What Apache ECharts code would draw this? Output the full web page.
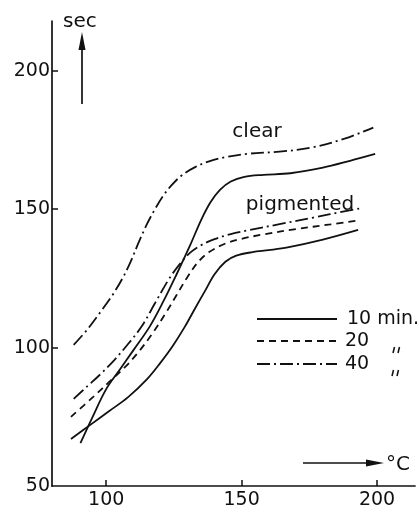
<!DOCTYPE html>
<html><head><meta charset="utf-8">
<script src="https://cdn.jsdelivr.net/npm/echarts@6/dist/echarts.min.js"></script>
<style>html,body{margin:0;padding:0;background:#fff}#c{width:419px;height:512px}</style>
</head><body><div id="c"></div>
<script>
// temperature (°C) vs time (sec)
const clear10 = [[90.5,65.5],[95,75],[100,85],[105,92],[110,99],[116,107.5],[121,116.5],[126,126.5],[131,137],[135,146],[138.5,152.5],[142,157],[146,160],[151,161.7],[158,162.4],[168,163],[180,165],[190,167.5],[199.3,170]];
const clear40 = [[88,101],[93,106.5],[98,113],[102,118.5],[106,125],[109,131],[112,138],[115,144.5],[118,150],[121,154.8],[124,158.5],[128,162.3],[133,165.3],[138,167.3],[144,168.8],[152,170],[164,170.8],[176,172.3],[188,175.5],[198.6,179.5]];
const pig10 = [[87,67],[94,72],[101,77],[108,82],[115,88.5],[120,94.5],[124.5,100.5],[129,107.5],[133,114.5],[136.5,120.5],[140,126.5],[144,131],[148,133.2],[154,134.5],[160,135.2],[167,136.2],[180,139],[193,142.5]];
const pig20 = [[87,75],[95,82],[101,87.5],[107,93],[112,98.5],[117,105],[122,112.5],[126,119],[130,125.5],[134,131],[138,134.5],[144,137.6],[150,139.3],[158,140.9],[170,142.8],[182.7,144.5],[193.5,146]];
const pig40 = [[88,81.5],[93,86],[98,90.5],[103,95.5],[108,101.2],[113,107.5],[118,116],[123,124.5],[127,130],[131,134.3],[135,137],[140,139.2],[146,141],[153,142.5],[164,144.6],[176.5,147],[188.8,149.4],[194,150.3]];
const xTicks = [100,150,200];
const yTicks = [100,150,200];
const yLabels = [50,100,150,200];
const legendTexts = ['10 min.','20','40'];

const INK = '#111';
const FONT = 'DejaVu Sans';
const DASHDOT = [13,4,2,4];
const LW = 1.8;
function line(name, data, type){
  return {name, type:'line', data, showSymbol:false, smooth:0.35, silent:true,
    lineStyle:{color:INK, width:LW, type}};
}
const chart = echarts.init(document.getElementById('c'), null, {renderer:'canvas'});
const txt = (x,y,s,align,size)=>({type:'text', x, y, style:{text:s, fill:INK, font:`${size||20}px "${FONT}"`, align:align||'left', verticalAlign:'middle'}});
const seg = (x1,x2,y,dash)=>({type:'line', shape:{x1,y1:y,x2,y2:y}, style:{stroke:INK, lineWidth:LW, lineDash:dash}});
const tick = (x,y)=>({type:'line', shape:{x1:x+1.5,y1:y-3,x2:x,y2:y+3}, style:{stroke:INK, lineWidth:1.5}});
chart.setOption({
  animation:false,
  backgroundColor:'#fff',
  grid:{left:52, right:4, top:21, bottom:26, containLabel:false, outerBoundsMode:'none'},
  xAxis:{type:'value', min:80, max:214,
    axisLine:{show:true, lineStyle:{color:INK, width:1.7}},
    axisTick:{show:true, inside:true, length:6, customValues:xTicks, lineStyle:{color:INK, width:1.5}},
    axisLabel:{customValues:xTicks, color:INK, fontSize:19, fontFamily:FONT, margin:5},
    splitLine:{show:false}},
  yAxis:{type:'value', min:50, max:218,
    axisLine:{show:true, lineStyle:{color:INK, width:1.7}},
    axisTick:{show:true, inside:true, length:6, customValues:yTicks, lineStyle:{color:INK, width:1.5}},
    axisLabel:{customValues:yLabels, color:INK, fontSize:19, fontFamily:FONT, margin:2},
    splitLine:{show:false}},
  series:[
    line('clear 10', clear10, 'solid'),
    line('clear 40', clear40, DASHDOT),
    line('pigmented 10', pig10, 'solid'),
    line('pigmented 20', pig20, [7,5]),
    line('pigmented 40', pig40, DASHDOT)
  ],
  graphic:[
    {type:'line', shape:{x1:82,y1:104,x2:82,y2:44}, style:{stroke:INK, lineWidth:1.7}},
    {type:'polygon', shape:{points:[[82,32],[78.5,50],[85.5,50]]}, style:{fill:INK}},
    txt(63,22,'sec'),
    {type:'line', shape:{x1:303,y1:463,x2:372,y2:463}, style:{stroke:INK, lineWidth:1.7}},
    {type:'polygon', shape:{points:[[384,463],[366,459.5],[366,466.5]]}, style:{fill:INK}},
    txt(386,465,'°C'),
    txt(257,132,'clear','center'),
    txt(300,205,'pigmented','center'),
    seg(257,337,319,null),
    seg(257,337,341,[7,5]),
    seg(257,337,364,DASHDOT),
    txt(347,319,legendTexts[0],'left',19),
    txt(345,341,legendTexts[1],'left',19),
    txt(345,364,legendTexts[2],'left',19),
    tick(393,350), tick(398,350),
    tick(392,373), tick(397,373)
  ]
});
</script></body></html>
